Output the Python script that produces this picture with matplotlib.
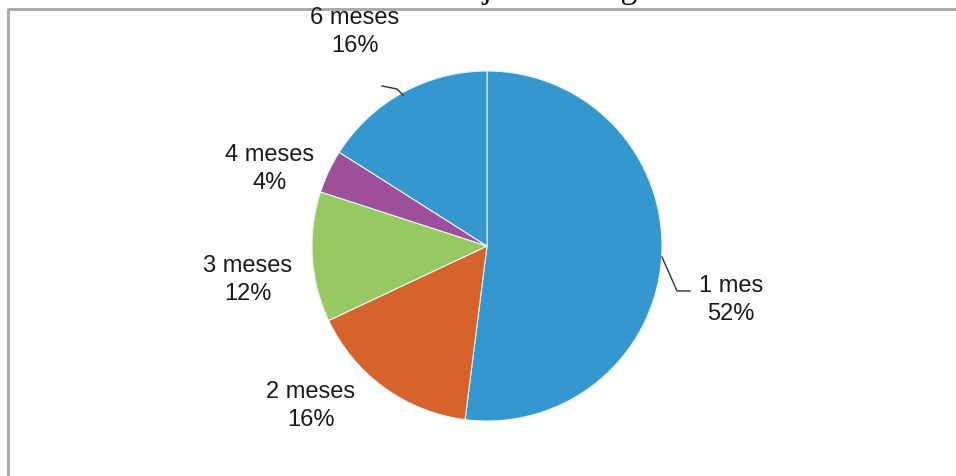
import matplotlib.pyplot as plt
from matplotlib.lines import Line2D

# Duración del trabajo hasta llegar a la negociación
categorias = ["1 mes", "2 meses", "3 meses", "4 meses", "6 meses"]
porcentajes = [52, 16, 12, 4, 16]
colores = ["#3597CE", "#D5632B", "#98C862", "#9D4F9C", "#3597CE"]

W, H = 956, 477
CENTRO = (487, H - 247)
RADIO = 175

plt.rcParams["font.family"] = ["Liberation Sans", "DejaVu Sans"]

fig = plt.figure(figsize=(W / 100, H / 100), dpi=100)
fig.patch.set_facecolor("white")

ax = fig.add_axes([0, 0, 1, 1])
ax.pie(
    porcentajes,
    colors=colores,
    startangle=90,
    counterclock=False,
    center=CENTRO,
    radius=RADIO,
    wedgeprops=dict(edgecolor="#E8F4FA", linewidth=0.8),
    frame=True,
)
ax.set_xlim(0, W)
ax.set_ylim(0, H)
ax.set_aspect("equal")
ax.axis("off")

# posiciones de las etiquetas (píxeles desde arriba)
pos_etiquetas = [(731, 300), (311, 406), (248, 280), (270, 169), (355, 32)]
for cat, pct, (x, y) in zip(categorias, porcentajes, pos_etiquetas):
    ax.text(x, H - y, f"{cat}\n{pct}%", ha="center", va="center",
            fontsize=17, color="#1a1a1a", linespacing=1.3)

# líneas guía
ax.add_line(Line2D([382, 397, 403], [H - 87, H - 90, H - 96], color="#333333", lw=1))
ax.add_line(Line2D([662, 677, 690], [H - 258, H - 292, H - 292], color="#333333", lw=1))

# marco del gráfico
fig.add_artist(Line2D([8, 8, W], [0, H - 10, H - 10], transform=None,
                      color="#A6A6A6", lw=2, zorder=-1))
fig.add_artist(Line2D([14, W], [H - 16, H - 16], transform=None,
                      color="#F4F4F4", lw=1, zorder=-1))

# título del documento, cortado en el borde superior
fig.text(360, H + 2, "Gráfico N° 3: Distribución de la duración del trabajo en la negociación del contrato",
         transform=None, ha="center", va="baseline", fontsize=24,
         family=["Liberation Serif"], color="black")

fig.savefig("out.png", dpi=100, facecolor="white")
